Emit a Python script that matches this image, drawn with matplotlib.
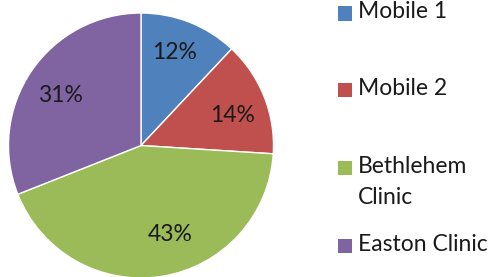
import matplotlib
matplotlib.use("Agg")
import matplotlib.pyplot as plt
from matplotlib.patches import Rectangle

# Data
labels = ["Mobile 1", "Mobile 2", "Bethlehem\nClinic", "Easton Clinic"]
values = [12, 14, 43, 31]
colors = ["#4F81BD", "#C0504D", "#9BBB59", "#8064A2"]

plt.rcParams["font.family"] = ["Lato", "DejaVu Sans"]

W, H = 493, 277
fig = plt.figure(figsize=(W / 100, H / 100), dpi=100)

# pie centre (141, 145.5) px, radius 132.5 px
cx, cy, r = 141, 145.5, 132.5
ax = fig.add_axes([(cx - r) / W, (H - cy - r) / H, 2 * r / W, 2 * r / H])
wedges, texts, autotexts = ax.pie(
    values, colors=colors, startangle=90, counterclock=False,
    autopct="%1.0f%%", pctdistance=0.74,
    wedgeprops=dict(edgecolor="white", linewidth=1),
    textprops=dict(fontsize=16.5, color="#1a1a1a"))
ax.set_xlim(-1, 1)
ax.set_ylim(-1, 1)

# Excel "best fit" label spots differ a little from the wedge middle
label_pos = [(0.25, 0.70), (0.69, 0.23), (0.22, -0.675), (-0.61, 0.38)]
for t, p in zip(autotexts, label_pos):
    t.set_position(p)

# legend, drawn by hand like Excel (square lined up with first text line)
leg_y = [13.5, 90, 168, 246]
for lab, col, y in zip(labels, colors, leg_y):
    fig.patches.append(Rectangle((338 / W, 1 - (y + 7) / H), 14 / W, 14 / H,
                                 facecolor=col, edgecolor="none",
                                 transform=fig.transFigure))
    fig.text(358 / W, 1 - (y - 12) / H, lab, fontsize=16.5, color="#1a1a1a",
             va="top", ha="left", linespacing=1.6)

fig.savefig("out.png", dpi=100)
